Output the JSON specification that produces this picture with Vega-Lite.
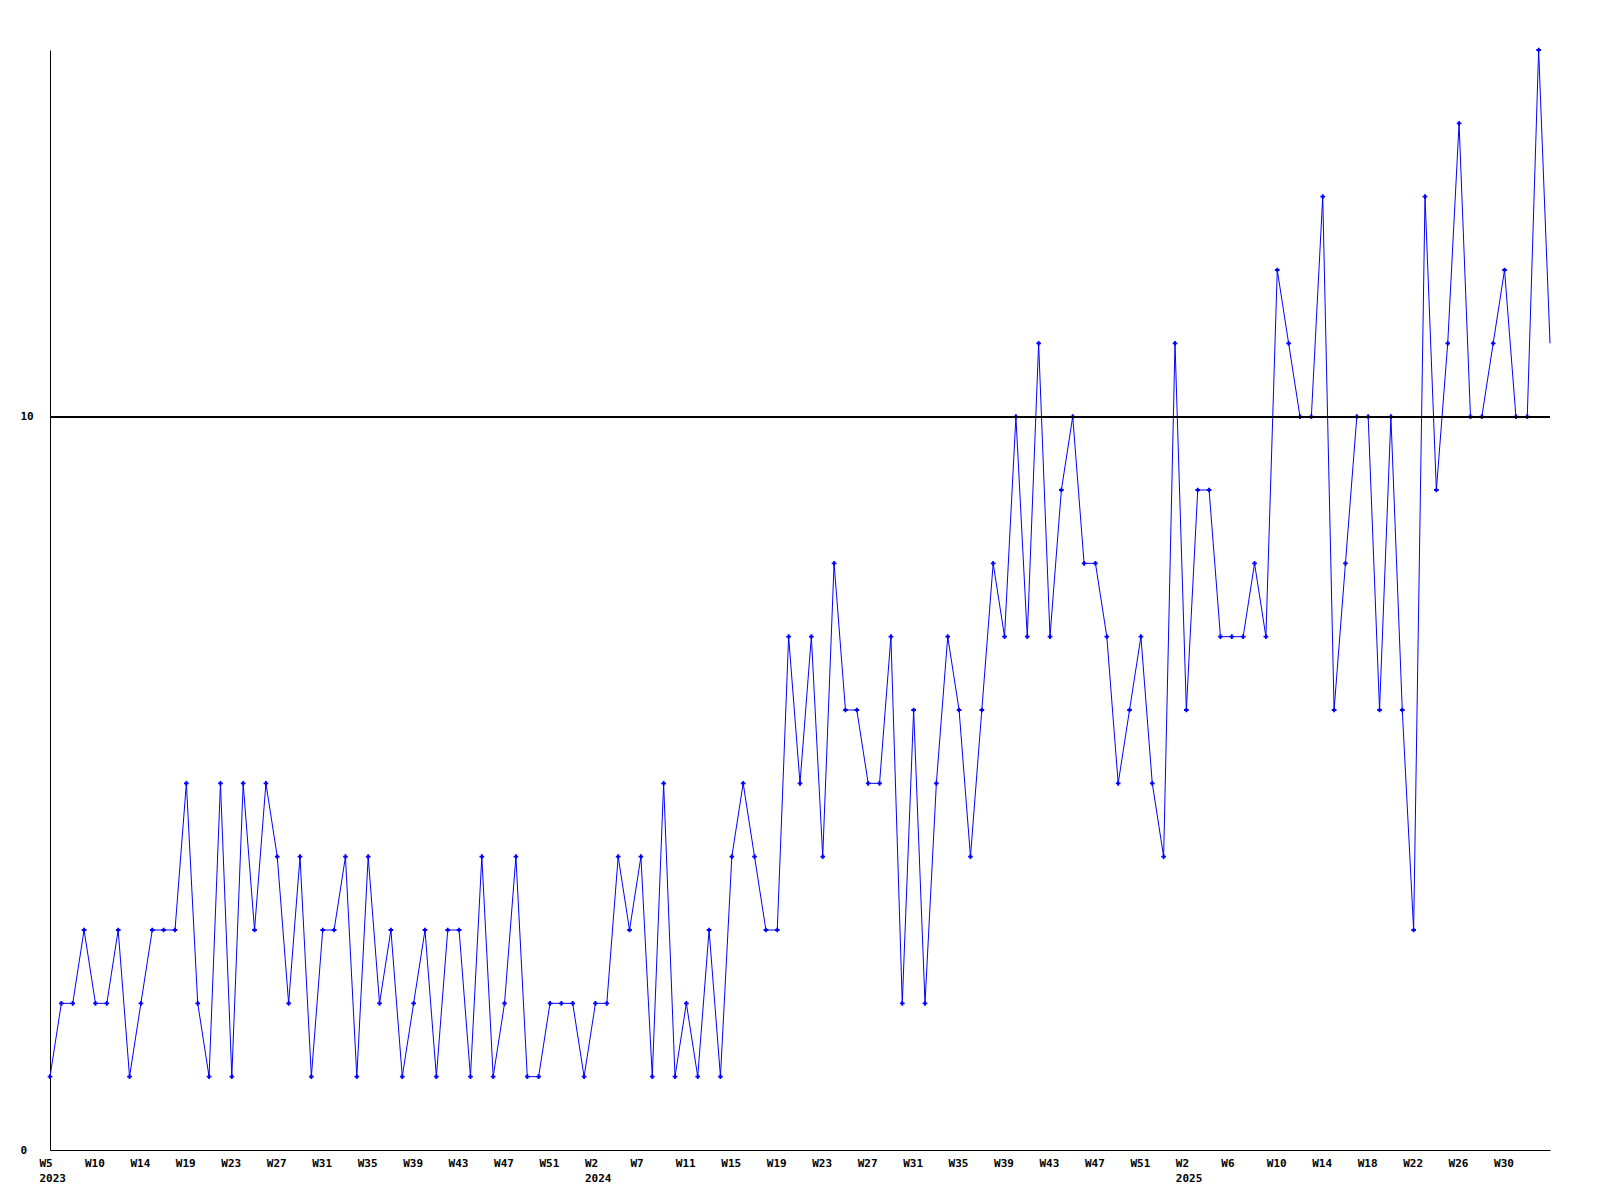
{
  "$schema": "https://vega.github.io/schema/vega-lite/v6.json",
  "width": 1500,
  "height": 1100,
  "autosize": {"type": "none"},
  "padding": {"left": 50, "top": 50, "right": 50, "bottom": 50},
  "background": "white",
  "config": {"view": {"stroke": null}},
  "data": {"values": [
    {"i":0,"v":1},{"i":1,"v":2},{"i":2,"v":2},{"i":3,"v":3},{"i":4,"v":2},{"i":5,"v":2},{"i":6,"v":3},{"i":7,"v":1},{"i":8,"v":2},{"i":9,"v":3},
    {"i":10,"v":3},{"i":11,"v":3},{"i":12,"v":5},{"i":13,"v":2},{"i":14,"v":1},{"i":15,"v":5},{"i":16,"v":1},{"i":17,"v":5},{"i":18,"v":3},{"i":19,"v":5},
    {"i":20,"v":4},{"i":21,"v":2},{"i":22,"v":4},{"i":23,"v":1},{"i":24,"v":3},{"i":25,"v":3},{"i":26,"v":4},{"i":27,"v":1},{"i":28,"v":4},{"i":29,"v":2},
    {"i":30,"v":3},{"i":31,"v":1},{"i":32,"v":2},{"i":33,"v":3},{"i":34,"v":1},{"i":35,"v":3},{"i":36,"v":3},{"i":37,"v":1},{"i":38,"v":4},{"i":39,"v":1},
    {"i":40,"v":2},{"i":41,"v":4},{"i":42,"v":1},{"i":43,"v":1},{"i":44,"v":2},{"i":45,"v":2},{"i":46,"v":2},{"i":47,"v":1},{"i":48,"v":2},{"i":49,"v":2},
    {"i":50,"v":4},{"i":51,"v":3},{"i":52,"v":4},{"i":53,"v":1},{"i":54,"v":5},{"i":55,"v":1},{"i":56,"v":2},{"i":57,"v":1},{"i":58,"v":3},{"i":59,"v":1},
    {"i":60,"v":4},{"i":61,"v":5},{"i":62,"v":4},{"i":63,"v":3},{"i":64,"v":3},{"i":65,"v":7},{"i":66,"v":5},{"i":67,"v":7},{"i":68,"v":4},{"i":69,"v":8},
    {"i":70,"v":6},{"i":71,"v":6},{"i":72,"v":5},{"i":73,"v":5},{"i":74,"v":7},{"i":75,"v":2},{"i":76,"v":6},{"i":77,"v":2},{"i":78,"v":5},{"i":79,"v":7},
    {"i":80,"v":6},{"i":81,"v":4},{"i":82,"v":6},{"i":83,"v":8},{"i":84,"v":7},{"i":85,"v":10},{"i":86,"v":7},{"i":87,"v":11},{"i":88,"v":7},{"i":89,"v":9},
    {"i":90,"v":10},{"i":91,"v":8},{"i":92,"v":8},{"i":93,"v":7},{"i":94,"v":5},{"i":95,"v":6},{"i":96,"v":7},{"i":97,"v":5},{"i":98,"v":4},{"i":99,"v":11},
    {"i":100,"v":6},{"i":101,"v":9},{"i":102,"v":9},{"i":103,"v":7},{"i":104,"v":7},{"i":105,"v":7},{"i":106,"v":8},{"i":107,"v":7},{"i":108,"v":12},{"i":109,"v":11},
    {"i":110,"v":10},{"i":111,"v":10},{"i":112,"v":13},{"i":113,"v":6},{"i":114,"v":8},{"i":115,"v":10},{"i":116,"v":10},{"i":117,"v":6},{"i":118,"v":10},{"i":119,"v":6},
    {"i":120,"v":3},{"i":121,"v":13},{"i":122,"v":9},{"i":123,"v":11},{"i":124,"v":14},{"i":125,"v":10},{"i":126,"v":10},{"i":127,"v":11},{"i":128,"v":12},{"i":129,"v":10},
    {"i":130,"v":10},{"i":131,"v":15},{"i":132,"v":11}
  ]},
  "encoding": {
    "x": {
      "field": "i",
      "type": "quantitative",
      "scale": {"domain": [0, 132], "nice": false, "zero": false},
      "axis": {
        "title": null,
        "values": [0,4,8,12,16,20,24,28,32,36,40,44,48,52,56,60,64,68,72,76,80,84,88,92,96,100,104,108,112,116,120,124,128],
        "labelExpr": "[['W5','2023'],'W10','W14','W19','W23','W27','W31','W35','W39','W43','W47','W51',['W2','2024'],'W7','W11','W15','W19','W23','W27','W31','W35','W39','W43','W47','W51',['W2','2025'],'W6','W10','W14','W18','W22','W26','W30'][round(datum.value/4)]",
        "labelAlign": "left",
        "labelOffset": -11,
        "labelBaseline": "top",
        "labelPadding": 7,
        "labelLineHeight": 15,
        "labelFont": "DejaVu Sans Mono",
        "labelFontWeight": "bold",
        "labelFontSize": 11,
        "labelColor": "black",
        "labelOverlap": false,
        "labelFlush": false,
        "ticks": false,
        "grid": false,
        "domainColor": "black",
        "domainWidth": 1
      }
    },
    "y": {
      "field": "v",
      "type": "quantitative",
      "scale": {"domain": [0, 15], "nice": false},
      "axis": {
        "title": null,
        "values": [0, 10],
        "labelAlign": "left",
        "labelBaseline": "middle",
        "labelPadding": 30,
        "labelFont": "DejaVu Sans Mono",
        "labelFontWeight": "bold",
        "labelFontSize": 11,
        "labelColor": "black",
        "ticks": false,
        "grid": false,
        "domainColor": "black",
        "domainWidth": 1
      }
    }
  },
  "layer": [
    {"mark": {"type": "line", "color": "#0000ff", "strokeWidth": 1}},
    {
      "transform": [{"filter": "datum.i < 132"}],
      "mark": {"type": "point", "shape": "cross", "filled": true, "color": "#0000ff", "size": 22, "opacity": 1}
    },
    {
      "mark": {"type": "rule", "color": "black", "strokeWidth": 1},
      "encoding": {"y": {"datum": 10}, "x": null}
    }
  ]
}
